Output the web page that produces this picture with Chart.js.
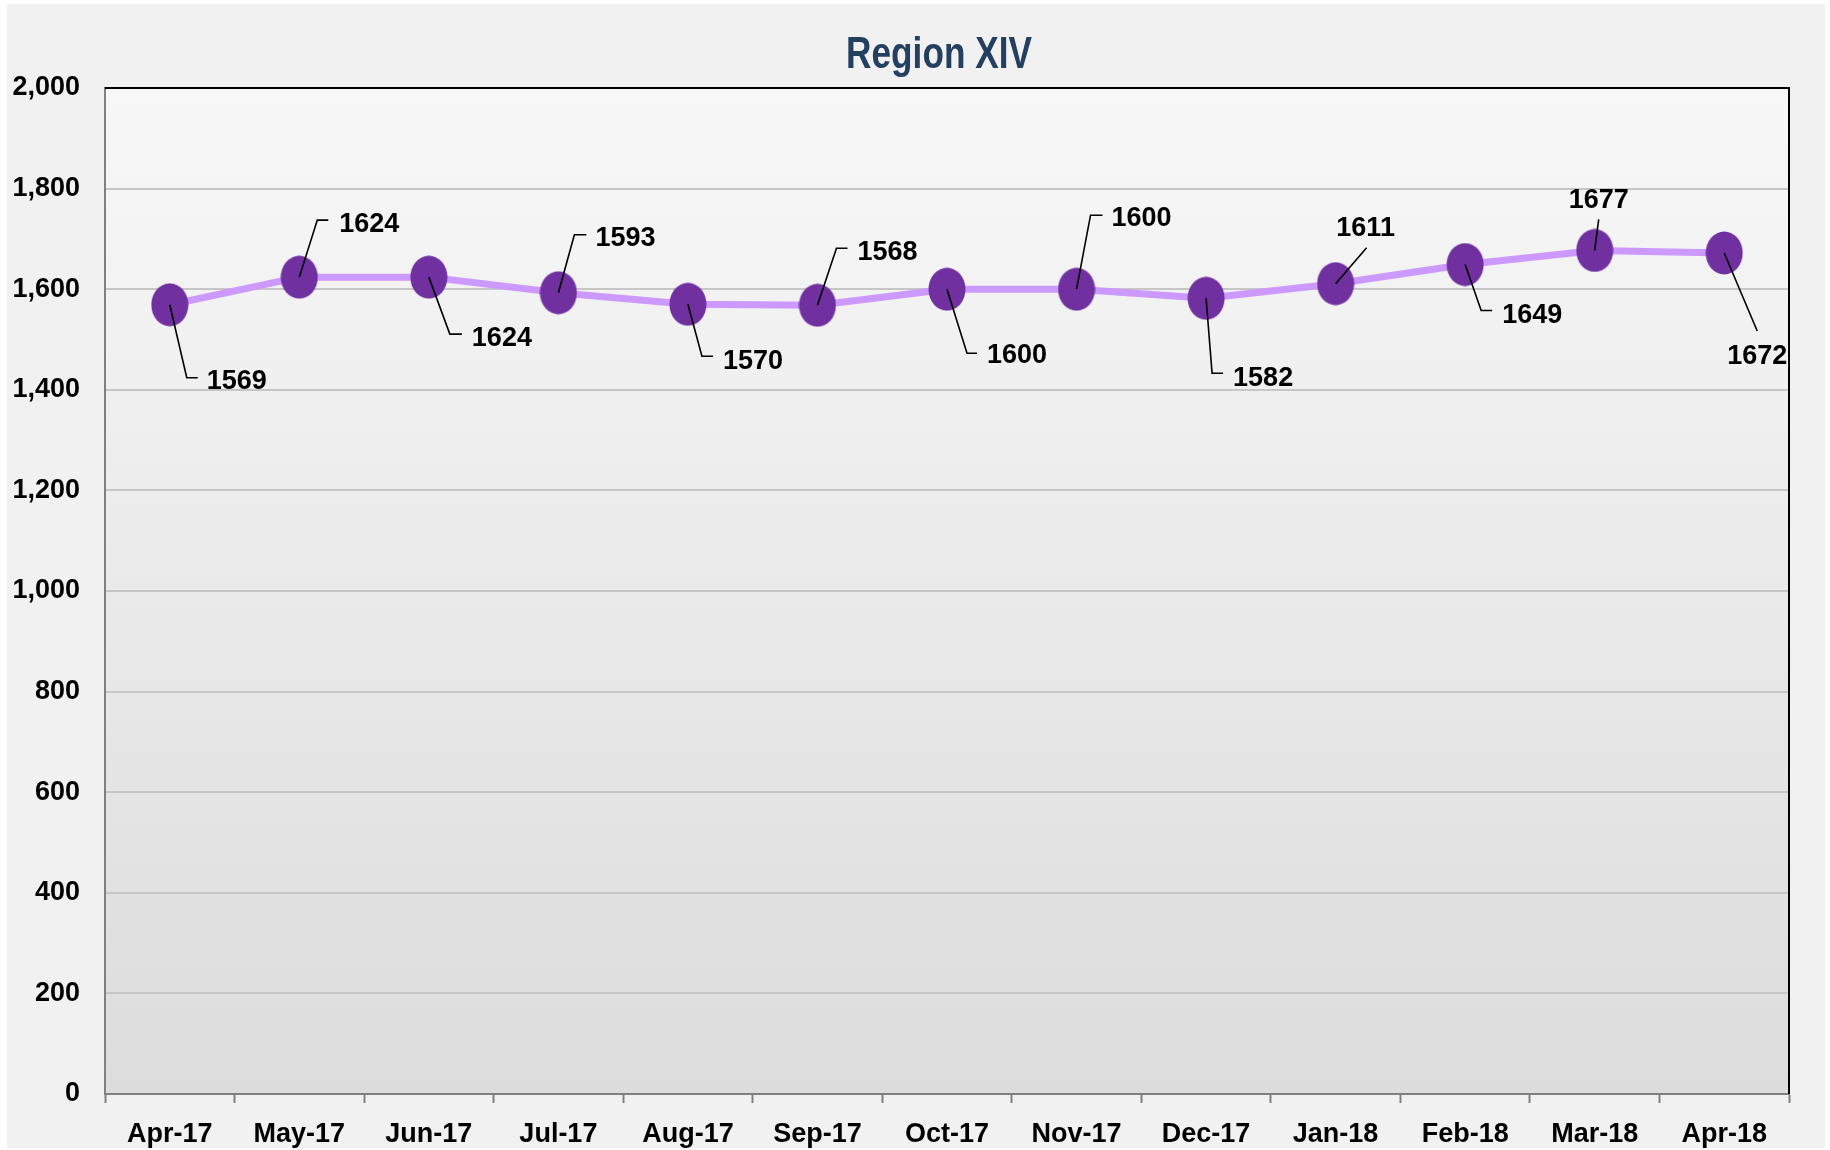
<!DOCTYPE html>
<html>
<head>
<meta charset="utf-8">
<title>Region XIV</title>
<script src="https://cdn.jsdelivr.net/npm/chart.js@4.4.1/dist/chart.umd.min.js"></script>
<style>
  html, body { margin: 0; padding: 0; background: #ffffff; }
  #frame {
    position: absolute; left: 7px; top: 4px;
    width: 1818px; height: 1144px;
    background: #f1f1f1;
  }
  #chart { display: block; }
</style>
</head>
<body>
<div id="frame"><canvas id="chart" width="1818" height="1144"></canvas></div>
<script>
// Monthly counts, April 2017 to April 2018
const chartTitle = 'Region XIV';
const months = ['Apr-17', 'May-17', 'Jun-17', 'Jul-17', 'Aug-17', 'Sep-17', 'Oct-17',
                'Nov-17', 'Dec-17', 'Jan-18', 'Feb-18', 'Mar-18', 'Apr-18'];
const counts = [1569, 1624, 1624, 1593, 1570, 1568, 1600, 1600, 1582, 1611, 1649, 1677, 1672];
const yMin = 0;
const yMax = 2000;
const yStep = 200;

// Where each value label sits relative to its marker, with its leader line:
// [leader end dx, leader end dy, hook length, text dx, text dy, text align]
const labelPlacement = [
  [17, 73, 11, 37, 76, 'left'],
  [18, -57, 11, 40, -54, 'left'],
  [21, 57, 12, 43, 60, 'left'],
  [16, -58, 12, 37, -55, 'left'],
  [14, 52, 11, 35, 56, 'left'],
  [19, -57, 11, 40, -54, 'left'],
  [20, 64, 10, 40, 65, 'left'],
  [14, -74, 12, 35, -72, 'left'],
  [6, 75, 11, 27, 79, 'left'],
  [31, -36, 0, 30, -56, 'center'],
  [16, 46, 11, 37, 50, 'left'],
  [4, -31, 0, 4, -51, 'center'],
  [33, 78, 0, 33, 103, 'center']
];

const FONT = '"Liberation Sans", Arial, Helvetica, sans-serif';

// Oval marker used for every point
function makeMarker() {
  const c = document.createElement('canvas');
  c.width = 38; c.height = 44;
  const g = c.getContext('2d');
  g.fillStyle = '#7030A0';
  g.beginPath();
  g.ellipse(19, 22, 18.5, 21.5, 0, 0, Math.PI * 2);
  g.fill();
  return c;
}

// Grey gradient behind the plot area
const plotBackground = {
  id: 'plotBackground',
  beforeDraw(chart) {
    const { ctx, chartArea: a } = chart;
    const grad = ctx.createLinearGradient(0, a.top, 0, a.bottom);
    grad.addColorStop(0, '#f8f8f8');
    grad.addColorStop(1, '#dcdcdc');
    ctx.save();
    ctx.fillStyle = grad;
    ctx.fillRect(a.left, a.top, a.right - a.left, a.bottom - a.top);
    ctx.restore();
  }
};

// Black top and right edges of the plot frame
const plotFrame = {
  id: 'plotFrame',
  afterDraw(chart) {
    const { ctx, chartArea: a } = chart;
    ctx.save();
    ctx.strokeStyle = '#000000';
    ctx.lineWidth = 2;
    ctx.beginPath();
    ctx.moveTo(a.left, a.top);
    ctx.lineTo(a.right, a.top);
    ctx.lineTo(a.right, a.bottom);
    ctx.stroke();
    ctx.restore();
  }
};

// Title, drawn slightly condensed
const titlePlugin = {
  id: 'condensedTitle',
  afterDraw(chart) {
    const { ctx, chartArea: a } = chart;
    const cx = (a.left + a.right) / 2 - 8;
    ctx.save();
    ctx.font = 'bold 44px ' + FONT;
    ctx.fillStyle = '#243F60';
    ctx.textAlign = 'center';
    ctx.textBaseline = 'alphabetic';
    ctx.translate(cx, 64);
    ctx.scale(0.8, 1);
    ctx.fillText(chartTitle, 0, 0);
    ctx.restore();
  }
};

// Value labels with leader lines
const valueLabels = {
  id: 'valueLabels',
  afterDatasetsDraw(chart) {
    const { ctx } = chart;
    const meta = chart.getDatasetMeta(0);
    ctx.save();
    ctx.font = 'bold 27px ' + FONT;
    ctx.fillStyle = '#000000';
    ctx.strokeStyle = '#000000';
    ctx.lineWidth = 1.6;
    ctx.textBaseline = 'middle';
    meta.data.forEach((pt, i) => {
      const [lx, ly, hook, tx, ty, align] = labelPlacement[i];
      const x = pt.x, y = pt.y;
      ctx.beginPath();
      ctx.moveTo(x, y);
      ctx.lineTo(x + lx, y + ly);
      if (hook) ctx.lineTo(x + lx + hook, y + ly);
      ctx.stroke();
      ctx.textAlign = align;
      ctx.fillText(String(counts[i]), x + tx, y + ty + 1);
    });
    ctx.restore();
  }
};

new Chart(document.getElementById('chart'), {
  type: 'line',
  data: {
    labels: months,
    datasets: [{
      data: counts,
      borderColor: '#CC99FF',
      borderWidth: 7,
      tension: 0,
      fill: false,
      pointStyle: makeMarker(),
      pointRadius: 20,
      pointHoverRadius: 20
    }]
  },
  options: {
    responsive: false,
    animation: false,
    devicePixelRatio: 1,
    locale: 'en-US',
    layout: { padding: { top: 84, right: 36, left: 0, bottom: 0 } },
    plugins: {
      legend: { display: false },
      title: { display: false },
      tooltip: { enabled: false }
    },
    scales: {
      x: {
        offset: true,
        grid: {
          offset: true,
          drawOnChartArea: false,
          drawTicks: true,
          tickLength: 9,
          tickColor: '#808080',
          tickWidth: 2
        },
        border: { color: '#808080', width: 2 },
        ticks: {
          color: '#000000',
          font: { family: FONT, size: 27, weight: 'bold' },
          padding: 15,
          maxRotation: 0,
          autoSkip: false
        },
        afterFit(scale) { scale.height = 54; }
      },
      y: {
        min: yMin,
        max: yMax,
        grid: {
          color: '#c6c6c6',
          lineWidth: 2,
          drawTicks: false
        },
        border: { color: '#808080', width: 2 },
        ticks: {
          stepSize: yStep,
          color: '#000000',
          font: { family: FONT, size: 27, weight: 'bold' },
          padding: 25
        },
        afterFit(scale) { scale.width = 98; }
      }
    }
  },
  plugins: [plotBackground, valueLabels, plotFrame, titlePlugin]
});
</script>
</body>
</html>
